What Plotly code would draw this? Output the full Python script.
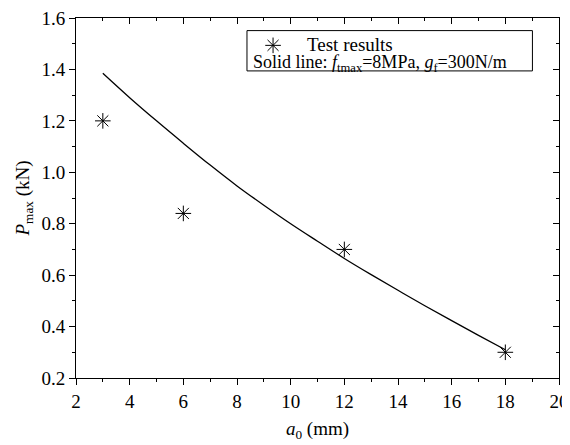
import plotly.graph_objects as go

# Test data
test_a0 = [3, 6, 12, 18]
test_pmax = [1.20, 0.84, 0.70, 0.30]

# Model curve (solid line)
curve_a0 = [3, 4, 5, 6, 7, 8, 9, 10, 11, 12, 13, 14, 15, 16, 17, 18]
curve_pmax = [1.385, 1.29, 1.20, 1.113, 1.028, 0.947, 0.872, 0.80, 0.732, 0.665,
              0.602, 0.541, 0.481, 0.423, 0.366, 0.31]

x_ticks = [2, 4, 6, 8, 10, 12, 14, 16, 18, 20]
y_ticks = [0.2, 0.4, 0.6, 0.8, 1.0, 1.2, 1.4, 1.6]

FONT = "Liberation Serif"
FS = 19

fig = go.Figure()
fig.add_trace(go.Scatter(x=curve_a0, y=curve_pmax, mode="lines",
                         line=dict(color="black", width=1.3, shape="spline"),
                         showlegend=False))
fig.add_trace(go.Scatter(x=test_a0, y=test_pmax, mode="markers",
                         marker=dict(symbol="asterisk-open", size=13, color="black",
                                     line=dict(color="black", width=1)),
                         showlegend=False))
# legend sample marker on hidden unit axes
fig.add_trace(go.Scatter(x=[0.408], y=[0.924], xaxis="x4", yaxis="y4",
                         mode="markers",
                         marker=dict(symbol="asterisk-open", size=13, color="black",
                                     line=dict(color="black", width=1)),
                         showlegend=False, hoverinfo="skip"))
# dummy trace to activate top/right axes
fig.add_trace(go.Scatter(x=[None], y=[None], xaxis="x2", yaxis="y2", showlegend=False))

axis_common = dict(showline=True, linecolor="black", linewidth=1, showgrid=False,
                   zeroline=False, tickcolor="black", automargin=False,
                   ticklabeloverflow="allow",
                   tickfont=dict(family=FONT, size=FS, color="black"))

fig.update_layout(
    width=562, height=437,
    margin=dict(l=68, r=11, t=10, b=67),
    plot_bgcolor="white", paper_bgcolor="white",
    font=dict(family=FONT, color="black"),
    xaxis=dict(range=[2, 20], tickvals=x_ticks, ticks="outside", ticklen=6,
               minor=dict(dtick=1, ticks="outside", ticklen=3, tickcolor="black"),
               title=dict(text="<i>a</i><sub>0</sub> (mm)", font=dict(family=FONT, size=FS),
                          standoff=10),
               **axis_common),
    yaxis=dict(range=[0.2, 1.6], tickvals=y_ticks, tickformat=".1f", ticks="outside",
               ticklen=6, ticksuffix="\u00a0",
               minor=dict(dtick=0.1, ticks="outside", ticklen=3, tickcolor="black"),
               title=dict(text="<i>P</i><sub>max</sub> (kN)", font=dict(family=FONT, size=FS),
                          standoff=6),
               **axis_common),
    xaxis2=dict(overlaying="x", matches="x", side="top", range=[2, 20], tickvals=x_ticks,
                ticks="inside", ticklen=6, showticklabels=False,
                minor=dict(dtick=1, ticks="inside", ticklen=3, tickcolor="black"),
                **axis_common),
    yaxis2=dict(overlaying="y", matches="y", side="right", range=[0.2, 1.6], tickvals=y_ticks,
                ticks="inside", ticklen=6, showticklabels=False,
                minor=dict(dtick=0.1, ticks="inside", ticklen=3, tickcolor="black"),
                **axis_common),
    xaxis4=dict(overlaying="x", range=[0, 1], visible=False, fixedrange=True),
    yaxis4=dict(overlaying="y", range=[0, 1], visible=False, fixedrange=True),
    shapes=[dict(type="rect", xref="paper", yref="paper", x0=0.354, x1=0.945,
                 y0=0.853, y1=0.965, line=dict(color="black", width=1),
                 fillcolor="white", layer="below")],
    annotations=[
        dict(xref="paper", yref="paper", x=0.474, y=0.926, xanchor="left", yanchor="middle",
             text="Test results", showarrow=False, font=dict(family=FONT, size=FS)),
        dict(xref="paper", yref="paper", x=0.362, y=0.874, xanchor="left", yanchor="middle",
             text="Solid line: <i>f</i><sub>tmax</sub>=8MPa, <i>g</i><sub>f</sub>=300N/m",
             showarrow=False, font=dict(family=FONT, size=18)),
    ],
)

fig.write_html("out.html")
